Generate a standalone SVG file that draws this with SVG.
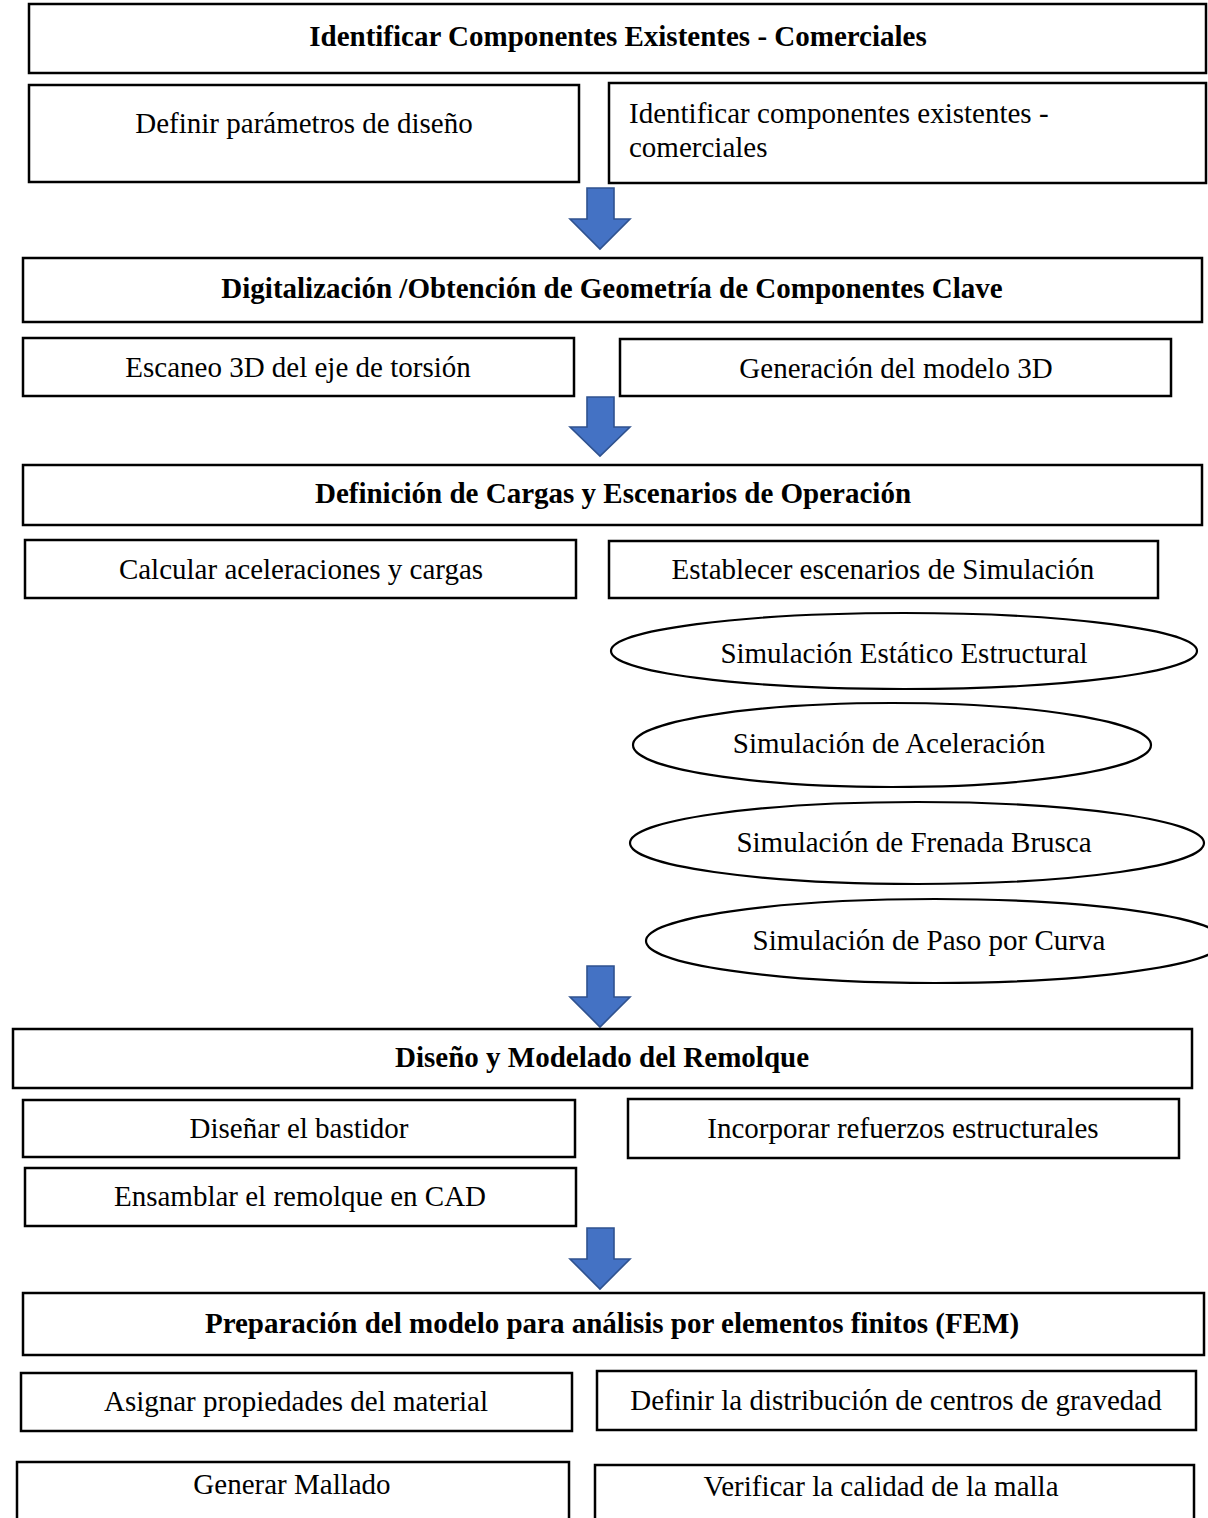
<svg xmlns="http://www.w3.org/2000/svg" width="1208" height="1518" viewBox="0 0 1208 1518">
<style>
.box{fill:#fff;stroke:#000;stroke-width:2.5}
.ell{fill:#fff;stroke:#000;stroke-width:2.2}
.t{font-family:"Liberation Serif","Times New Roman",serif;font-size:29px;fill:#000;text-anchor:middle}
.b{font-weight:bold}
.l{text-anchor:start}
.arr{fill:#4472C4;stroke:#2F528F;stroke-width:1.6;stroke-linejoin:miter}
</style>
<defs>
<polygon id="darrow" class="arr" points="587,0 614,0 614,31 630,31 600,61 570,31 587,31"/>
</defs>
<rect width="1208" height="1518" fill="#fff"/>

<g id="connectors">
<use href="#darrow" transform="translate(0,188)"/>
<use href="#darrow" transform="translate(0,397) scale(1,0.97)"/>
<use href="#darrow" transform="translate(0,966)"/>
<use href="#darrow" transform="translate(0,1228)"/>
</g>

<g id="n1"><rect class="box" x="29" y="4" width="1177" height="69"/><text class="t b" x="618" y="46">Identificar Componentes Existentes - Comerciales</text></g>
<g id="n2"><rect class="box" x="29" y="85" width="550" height="97"/><text class="t" x="304" y="133">Definir parámetros de diseño</text></g>
<g id="n3"><rect class="box" x="609" y="83" width="597" height="100"/><text class="t l" x="629" y="123">Identificar componentes existentes -</text><text class="t l" x="629" y="157">comerciales</text></g>

<g id="n4"><rect class="box" x="23" y="258" width="1179" height="64"/><text class="t b" x="612" y="298">Digitalización /Obtención de Geometría de Componentes Clave</text></g>
<g id="n5"><rect class="box" x="23" y="338" width="551" height="58"/><text class="t" x="298" y="377">Escaneo 3D del eje de torsión</text></g>
<g id="n6"><rect class="box" x="620" y="339" width="551" height="57"/><text class="t" x="896" y="378">Generación del modelo 3D</text></g>

<g id="n7"><rect class="box" x="23" y="465" width="1179" height="60"/><text class="t b" x="613" y="503">Definición de Cargas y Escenarios de Operación</text></g>
<g id="n8"><rect class="box" x="25" y="540" width="551" height="58"/><text class="t" x="301" y="579">Calcular aceleraciones y cargas</text></g>
<g id="n9"><rect class="box" x="609" y="541" width="549" height="57"/><text class="t" x="883" y="579">Establecer escenarios de Simulación</text></g>

<g id="n10"><ellipse class="ell" cx="904" cy="651" rx="293" ry="38"/><text class="t" x="904" y="663">Simulación Estático Estructural</text></g>
<g id="n11"><ellipse class="ell" cx="892" cy="745" rx="259" ry="42"/><text class="t" x="889" y="753">Simulación de Aceleración</text></g>
<g id="n12"><ellipse class="ell" cx="917" cy="843" rx="287" ry="41"/><text class="t" x="914" y="852">Simulación de Frenada Brusca</text></g>
<g id="n13"><ellipse class="ell" cx="935" cy="941" rx="289" ry="42"/><text class="t" x="929" y="950">Simulación de Paso por Curva</text></g>

<g id="n14"><rect class="box" x="13" y="1029" width="1179" height="59"/><text class="t b" x="602" y="1067">Diseño y Modelado del Remolque</text></g>
<g id="n15"><rect class="box" x="23" y="1100" width="552" height="57"/><text class="t" x="299" y="1138">Diseñar el bastidor</text></g>
<g id="n16"><rect class="box" x="628" y="1099" width="551" height="59"/><text class="t" x="903" y="1138">Incorporar refuerzos estructurales</text></g>
<g id="n17"><rect class="box" x="25" y="1168" width="551" height="58"/><text class="t" x="300" y="1206">Ensamblar el remolque en CAD</text></g>

<g id="n18"><rect class="box" x="23" y="1293" width="1181" height="62"/><text class="t b" x="612" y="1333">Preparación del modelo para análisis por elementos finitos (FEM)</text></g>
<g id="n19"><rect class="box" x="21" y="1373" width="551" height="58"/><text class="t" x="296" y="1411">Asignar propiedades del material</text></g>
<g id="n20"><rect class="box" x="597" y="1371" width="599" height="59"/><text class="t" x="896" y="1410">Definir la distribución de centros de gravedad</text></g>
<g id="n21"><rect class="box" x="17" y="1462" width="552" height="80"/><text class="t" x="292" y="1494">Generar Mallado</text></g>
<g id="n22"><rect class="box" x="595" y="1465" width="599" height="80"/><text class="t" x="881" y="1496">Verificar la calidad de la malla</text></g>
</svg>
